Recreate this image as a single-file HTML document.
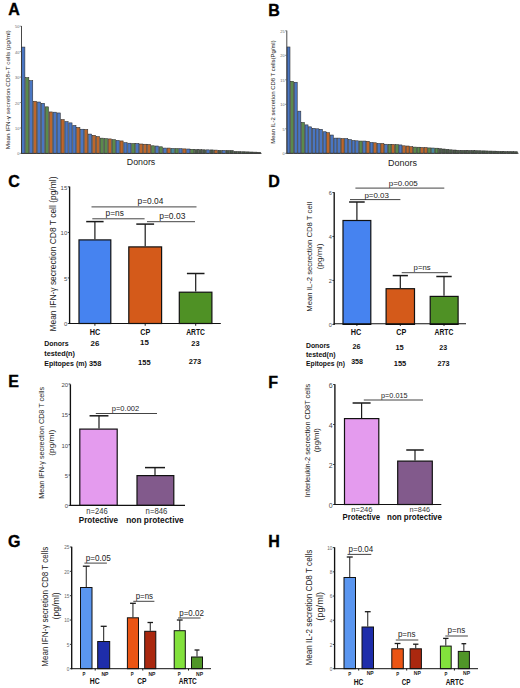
<!DOCTYPE html>
<html><head><meta charset="utf-8"><title>Figure</title>
<style>
html,body{margin:0;padding:0;background:#fff;}
body{width:520px;height:688px;overflow:hidden;}
svg{display:block;font-family:"Liberation Sans", sans-serif;}
</style></head>
<body>
<svg width="520" height="688" viewBox="0 0 520 688">
<rect width="520" height="688" fill="#fff"/>
<text x="8.30" y="15.20" font-size="16.0" text-anchor="start" font-weight="bold" fill="#000" stroke="#000" stroke-width="0.35">A</text>
<text x="268.30" y="15.50" font-size="16.0" text-anchor="start" font-weight="bold" fill="#000" stroke="#000" stroke-width="0.35">B</text>
<text x="8.30" y="187.20" font-size="16.0" text-anchor="start" font-weight="bold" fill="#000" stroke="#000" stroke-width="0.35">C</text>
<text x="268.30" y="187.20" font-size="16.0" text-anchor="start" font-weight="bold" fill="#000" stroke="#000" stroke-width="0.35">D</text>
<text x="8.30" y="387.40" font-size="16.0" text-anchor="start" font-weight="bold" fill="#000" stroke="#000" stroke-width="0.35">E</text>
<text x="268.30" y="388.00" font-size="16.0" text-anchor="start" font-weight="bold" fill="#000" stroke="#000" stroke-width="0.35">F</text>
<text x="8.00" y="546.50" font-size="16.0" text-anchor="start" font-weight="bold" fill="#000" stroke="#000" stroke-width="0.35">G</text>
<text x="268.30" y="546.50" font-size="16.0" text-anchor="start" font-weight="bold" fill="#000" stroke="#000" stroke-width="0.35">H</text>
<rect x="21.70" y="47.06" width="3.20" height="106.34" fill="#4a76c2" stroke="#2a2a2a" stroke-width="0.55"/>
<rect x="25.63" y="77.59" width="3.20" height="75.81" fill="#5b8a4c" stroke="#2a2a2a" stroke-width="0.55"/>
<rect x="29.56" y="80.64" width="3.20" height="72.76" fill="#4a76c2" stroke="#2a2a2a" stroke-width="0.55"/>
<rect x="33.49" y="101.25" width="3.20" height="52.15" fill="#bd672b" stroke="#2a2a2a" stroke-width="0.55"/>
<rect x="37.42" y="102.01" width="3.20" height="51.39" fill="#4a76c2" stroke="#2a2a2a" stroke-width="0.55"/>
<rect x="41.35" y="103.28" width="3.20" height="50.12" fill="#4a76c2" stroke="#2a2a2a" stroke-width="0.55"/>
<rect x="45.28" y="106.84" width="3.20" height="46.56" fill="#5b8a4c" stroke="#2a2a2a" stroke-width="0.55"/>
<rect x="49.21" y="111.93" width="3.20" height="41.47" fill="#bd672b" stroke="#2a2a2a" stroke-width="0.55"/>
<rect x="53.14" y="112.19" width="3.20" height="41.21" fill="#4a76c2" stroke="#2a2a2a" stroke-width="0.55"/>
<rect x="57.07" y="112.95" width="3.20" height="40.45" fill="#4a76c2" stroke="#2a2a2a" stroke-width="0.55"/>
<rect x="61.00" y="119.56" width="3.20" height="33.84" fill="#bd672b" stroke="#2a2a2a" stroke-width="0.55"/>
<rect x="64.93" y="121.60" width="3.20" height="31.80" fill="#4a76c2" stroke="#2a2a2a" stroke-width="0.55"/>
<rect x="68.86" y="122.87" width="3.20" height="30.53" fill="#4a76c2" stroke="#2a2a2a" stroke-width="0.55"/>
<rect x="72.79" y="125.42" width="3.20" height="27.98" fill="#4a76c2" stroke="#2a2a2a" stroke-width="0.55"/>
<rect x="76.72" y="127.45" width="3.20" height="25.95" fill="#bd672b" stroke="#2a2a2a" stroke-width="0.55"/>
<rect x="80.65" y="129.23" width="3.20" height="24.17" fill="#4a76c2" stroke="#2a2a2a" stroke-width="0.55"/>
<rect x="84.58" y="129.49" width="3.20" height="23.91" fill="#bd672b" stroke="#2a2a2a" stroke-width="0.55"/>
<rect x="88.51" y="134.07" width="3.20" height="19.33" fill="#4a76c2" stroke="#2a2a2a" stroke-width="0.55"/>
<rect x="92.44" y="135.34" width="3.20" height="18.06" fill="#bd672b" stroke="#2a2a2a" stroke-width="0.55"/>
<rect x="96.37" y="136.61" width="3.20" height="16.79" fill="#bd672b" stroke="#2a2a2a" stroke-width="0.55"/>
<rect x="100.30" y="138.14" width="3.20" height="15.26" fill="#5b8a4c" stroke="#2a2a2a" stroke-width="0.55"/>
<rect x="104.23" y="138.64" width="3.20" height="14.76" fill="#5b8a4c" stroke="#2a2a2a" stroke-width="0.55"/>
<rect x="108.16" y="138.90" width="3.20" height="14.50" fill="#bd672b" stroke="#2a2a2a" stroke-width="0.55"/>
<rect x="112.09" y="139.66" width="3.20" height="13.74" fill="#5b8a4c" stroke="#2a2a2a" stroke-width="0.55"/>
<rect x="116.02" y="140.43" width="3.20" height="12.97" fill="#4a76c2" stroke="#2a2a2a" stroke-width="0.55"/>
<rect x="119.95" y="140.93" width="3.20" height="12.47" fill="#bd672b" stroke="#2a2a2a" stroke-width="0.55"/>
<rect x="123.88" y="142.72" width="3.20" height="10.68" fill="#4a76c2" stroke="#2a2a2a" stroke-width="0.55"/>
<rect x="127.81" y="143.22" width="3.20" height="10.18" fill="#4a76c2" stroke="#2a2a2a" stroke-width="0.55"/>
<rect x="131.74" y="143.48" width="3.20" height="9.92" fill="#5b8a4c" stroke="#2a2a2a" stroke-width="0.55"/>
<rect x="135.67" y="143.48" width="3.20" height="9.92" fill="#4a76c2" stroke="#2a2a2a" stroke-width="0.55"/>
<rect x="139.60" y="143.99" width="3.20" height="9.41" fill="#bd672b" stroke="#2a2a2a" stroke-width="0.55"/>
<rect x="143.53" y="144.24" width="3.20" height="9.16" fill="#bd672b" stroke="#2a2a2a" stroke-width="0.55"/>
<rect x="147.46" y="144.50" width="3.20" height="8.90" fill="#bd672b" stroke="#2a2a2a" stroke-width="0.55"/>
<rect x="151.39" y="145.77" width="3.20" height="7.63" fill="#5b8a4c" stroke="#2a2a2a" stroke-width="0.55"/>
<rect x="155.32" y="146.02" width="3.20" height="7.38" fill="#4a76c2" stroke="#2a2a2a" stroke-width="0.55"/>
<rect x="159.25" y="146.79" width="3.20" height="6.61" fill="#5b8a4c" stroke="#2a2a2a" stroke-width="0.55"/>
<rect x="163.18" y="148.06" width="3.20" height="5.34" fill="#4a76c2" stroke="#2a2a2a" stroke-width="0.55"/>
<rect x="167.11" y="148.06" width="3.20" height="5.34" fill="#bd672b" stroke="#2a2a2a" stroke-width="0.55"/>
<rect x="171.04" y="148.44" width="3.20" height="4.96" fill="#4a8aa0" stroke="#2a2a2a" stroke-width="0.55"/>
<rect x="174.97" y="148.57" width="3.20" height="4.83" fill="#5b8a4c" stroke="#2a2a2a" stroke-width="0.55"/>
<rect x="178.90" y="148.69" width="3.20" height="4.71" fill="#4a76c2" stroke="#2a2a2a" stroke-width="0.55"/>
<rect x="182.83" y="148.87" width="3.20" height="4.53" fill="#bd672b" stroke="#2a2a2a" stroke-width="0.55"/>
<rect x="186.76" y="149.00" width="3.20" height="4.40" fill="#4a76c2" stroke="#2a2a2a" stroke-width="0.55"/>
<rect x="190.69" y="149.30" width="3.20" height="4.10" fill="#5b8a4c" stroke="#2a2a2a" stroke-width="0.55"/>
<rect x="194.62" y="149.58" width="3.20" height="3.82" fill="#4a5a48" stroke="#2a2a2a" stroke-width="0.55"/>
<rect x="198.55" y="149.69" width="3.20" height="3.71" fill="#4a5a48" stroke="#2a2a2a" stroke-width="0.55"/>
<rect x="202.48" y="149.79" width="3.20" height="3.61" fill="#4a5a48" stroke="#2a2a2a" stroke-width="0.55"/>
<rect x="206.41" y="149.84" width="3.20" height="3.56" fill="#4a76c2" stroke="#2a2a2a" stroke-width="0.55"/>
<rect x="210.34" y="149.91" width="3.20" height="3.49" fill="#4a5a48" stroke="#2a2a2a" stroke-width="0.55"/>
<rect x="214.27" y="150.09" width="3.20" height="3.31" fill="#bd672b" stroke="#2a2a2a" stroke-width="0.55"/>
<rect x="218.20" y="150.35" width="3.20" height="3.05" fill="#4a5a48" stroke="#2a2a2a" stroke-width="0.55"/>
<rect x="222.13" y="150.40" width="3.20" height="3.00" fill="#4a76c2" stroke="#2a2a2a" stroke-width="0.55"/>
<rect x="226.06" y="150.47" width="3.20" height="2.93" fill="#4a5a48" stroke="#2a2a2a" stroke-width="0.55"/>
<rect x="229.99" y="150.55" width="3.20" height="2.85" fill="#4a5a48" stroke="#2a2a2a" stroke-width="0.55"/>
<rect x="233.92" y="151.49" width="3.20" height="1.91" fill="#4a5a48" stroke="#2a2a2a" stroke-width="0.55"/>
<rect x="237.85" y="151.62" width="3.20" height="1.78" fill="#4a5a48" stroke="#2a2a2a" stroke-width="0.55"/>
<rect x="241.78" y="151.75" width="3.20" height="1.65" fill="#4a5a48" stroke="#2a2a2a" stroke-width="0.55"/>
<rect x="245.71" y="151.87" width="3.20" height="1.53" fill="#4a5a48" stroke="#2a2a2a" stroke-width="0.55"/>
<rect x="249.64" y="152.00" width="3.20" height="1.40" fill="#4a5a48" stroke="#2a2a2a" stroke-width="0.55"/>
<rect x="253.57" y="152.13" width="3.20" height="1.27" fill="#4a5a48" stroke="#2a2a2a" stroke-width="0.55"/>
<rect x="257.50" y="152.26" width="3.20" height="1.14" fill="#4a5a48" stroke="#2a2a2a" stroke-width="0.55"/>
<line x1="21.50" y1="26.00" x2="21.50" y2="153.80" stroke="#333" stroke-width="0.9"/>
<line x1="21.10" y1="153.40" x2="261.50" y2="153.40" stroke="#333" stroke-width="0.9"/>
<line x1="19.70" y1="153.40" x2="21.50" y2="153.40" stroke="#555" stroke-width="0.6"/>
<text x="19.30" y="155.40" font-size="3.9" text-anchor="end" fill="#666">0</text>
<line x1="19.70" y1="127.96" x2="21.50" y2="127.96" stroke="#555" stroke-width="0.6"/>
<text x="19.30" y="129.96" font-size="3.9" text-anchor="end" fill="#666">10</text>
<line x1="19.70" y1="102.52" x2="21.50" y2="102.52" stroke="#555" stroke-width="0.6"/>
<text x="19.30" y="104.52" font-size="3.9" text-anchor="end" fill="#666">20</text>
<line x1="19.70" y1="77.08" x2="21.50" y2="77.08" stroke="#555" stroke-width="0.6"/>
<text x="19.30" y="79.08" font-size="3.9" text-anchor="end" fill="#666">30</text>
<line x1="19.70" y1="51.64" x2="21.50" y2="51.64" stroke="#555" stroke-width="0.6"/>
<text x="19.30" y="53.64" font-size="3.9" text-anchor="end" fill="#666">40</text>
<line x1="19.70" y1="26.20" x2="21.50" y2="26.20" stroke="#555" stroke-width="0.6"/>
<text x="19.30" y="28.20" font-size="3.9" text-anchor="end" fill="#666">50</text>
<text x="141.00" y="165.30" font-size="9.2" text-anchor="middle" fill="#222" textLength="28.50" lengthAdjust="spacingAndGlyphs">Donors</text>
<text transform="translate(9.70,89.80) rotate(-90)" font-size="6.0" text-anchor="middle" fill="#222" textLength="119.00" lengthAdjust="spacingAndGlyphs">Mean IFN-γ secretion CD8+T cells (pg/ml)</text>
<rect x="287.00" y="46.97" width="3.00" height="106.33" fill="#4a76c2" stroke="#2a2a2a" stroke-width="0.55"/>
<rect x="290.61" y="81.27" width="3.00" height="72.03" fill="#5b8a4c" stroke="#2a2a2a" stroke-width="0.55"/>
<rect x="294.22" y="82.25" width="3.00" height="71.05" fill="#4a76c2" stroke="#2a2a2a" stroke-width="0.55"/>
<rect x="297.83" y="111.16" width="3.00" height="42.14" fill="#4a76c2" stroke="#2a2a2a" stroke-width="0.55"/>
<rect x="301.44" y="122.43" width="3.00" height="30.87" fill="#5b8a4c" stroke="#2a2a2a" stroke-width="0.55"/>
<rect x="305.05" y="124.88" width="3.00" height="28.42" fill="#4a76c2" stroke="#2a2a2a" stroke-width="0.55"/>
<rect x="308.66" y="126.84" width="3.00" height="26.46" fill="#4a76c2" stroke="#2a2a2a" stroke-width="0.55"/>
<rect x="312.27" y="128.31" width="3.00" height="24.99" fill="#4a76c2" stroke="#2a2a2a" stroke-width="0.55"/>
<rect x="315.88" y="128.80" width="3.00" height="24.50" fill="#4a76c2" stroke="#2a2a2a" stroke-width="0.55"/>
<rect x="319.49" y="129.29" width="3.00" height="24.01" fill="#4a76c2" stroke="#2a2a2a" stroke-width="0.55"/>
<rect x="323.10" y="131.74" width="3.00" height="21.56" fill="#4a76c2" stroke="#2a2a2a" stroke-width="0.55"/>
<rect x="326.71" y="132.72" width="3.00" height="20.58" fill="#bd672b" stroke="#2a2a2a" stroke-width="0.55"/>
<rect x="330.32" y="135.02" width="3.00" height="18.28" fill="#4a76c2" stroke="#2a2a2a" stroke-width="0.55"/>
<rect x="333.93" y="138.11" width="3.00" height="15.19" fill="#4a76c2" stroke="#2a2a2a" stroke-width="0.55"/>
<rect x="337.54" y="138.11" width="3.00" height="15.19" fill="#4a76c2" stroke="#2a2a2a" stroke-width="0.55"/>
<rect x="341.15" y="138.60" width="3.00" height="14.70" fill="#bd672b" stroke="#2a2a2a" stroke-width="0.55"/>
<rect x="344.76" y="138.60" width="3.00" height="14.70" fill="#4a76c2" stroke="#2a2a2a" stroke-width="0.55"/>
<rect x="348.37" y="139.58" width="3.00" height="13.72" fill="#4a76c2" stroke="#2a2a2a" stroke-width="0.55"/>
<rect x="351.98" y="140.56" width="3.00" height="12.74" fill="#4a76c2" stroke="#2a2a2a" stroke-width="0.55"/>
<rect x="355.59" y="140.81" width="3.00" height="12.49" fill="#4a76c2" stroke="#2a2a2a" stroke-width="0.55"/>
<rect x="359.20" y="141.05" width="3.00" height="12.25" fill="#5b8a4c" stroke="#2a2a2a" stroke-width="0.55"/>
<rect x="362.81" y="141.05" width="3.00" height="12.25" fill="#4a76c2" stroke="#2a2a2a" stroke-width="0.55"/>
<rect x="366.42" y="141.30" width="3.00" height="12.01" fill="#bd672b" stroke="#2a2a2a" stroke-width="0.55"/>
<rect x="370.03" y="142.52" width="3.00" height="10.78" fill="#4a76c2" stroke="#2a2a2a" stroke-width="0.55"/>
<rect x="373.64" y="142.77" width="3.00" height="10.54" fill="#bd672b" stroke="#2a2a2a" stroke-width="0.55"/>
<rect x="377.25" y="143.50" width="3.00" height="9.80" fill="#4a76c2" stroke="#2a2a2a" stroke-width="0.55"/>
<rect x="380.86" y="143.50" width="3.00" height="9.80" fill="#bd672b" stroke="#2a2a2a" stroke-width="0.55"/>
<rect x="384.47" y="144.24" width="3.00" height="9.07" fill="#4a76c2" stroke="#2a2a2a" stroke-width="0.55"/>
<rect x="388.08" y="144.28" width="3.00" height="9.02" fill="#5b8a4c" stroke="#2a2a2a" stroke-width="0.55"/>
<rect x="391.69" y="144.38" width="3.00" height="8.92" fill="#bd672b" stroke="#2a2a2a" stroke-width="0.55"/>
<rect x="395.30" y="144.68" width="3.00" height="8.62" fill="#5b8a4c" stroke="#2a2a2a" stroke-width="0.55"/>
<rect x="398.91" y="144.92" width="3.00" height="8.38" fill="#4a76c2" stroke="#2a2a2a" stroke-width="0.55"/>
<rect x="402.52" y="145.80" width="3.00" height="7.50" fill="#bd672b" stroke="#2a2a2a" stroke-width="0.55"/>
<rect x="406.13" y="146.00" width="3.00" height="7.30" fill="#bd672b" stroke="#2a2a2a" stroke-width="0.55"/>
<rect x="409.74" y="146.69" width="3.00" height="6.62" fill="#bd672b" stroke="#2a2a2a" stroke-width="0.55"/>
<rect x="413.35" y="147.08" width="3.00" height="6.22" fill="#5b8a4c" stroke="#2a2a2a" stroke-width="0.55"/>
<rect x="416.96" y="147.22" width="3.00" height="6.08" fill="#5b8a4c" stroke="#2a2a2a" stroke-width="0.55"/>
<rect x="420.57" y="147.42" width="3.00" height="5.88" fill="#bd672b" stroke="#2a2a2a" stroke-width="0.55"/>
<rect x="424.18" y="147.52" width="3.00" height="5.78" fill="#bd672b" stroke="#2a2a2a" stroke-width="0.55"/>
<rect x="427.79" y="147.91" width="3.00" height="5.39" fill="#5b8a4c" stroke="#2a2a2a" stroke-width="0.55"/>
<rect x="431.40" y="148.01" width="3.00" height="5.29" fill="#4a8aa0" stroke="#2a2a2a" stroke-width="0.55"/>
<rect x="435.01" y="148.20" width="3.00" height="5.10" fill="#5b8a4c" stroke="#2a2a2a" stroke-width="0.55"/>
<rect x="438.62" y="148.69" width="3.00" height="4.61" fill="#4a5a48" stroke="#2a2a2a" stroke-width="0.55"/>
<rect x="442.23" y="148.99" width="3.00" height="4.31" fill="#4a5a48" stroke="#2a2a2a" stroke-width="0.55"/>
<rect x="445.84" y="149.28" width="3.00" height="4.02" fill="#4a5a48" stroke="#2a2a2a" stroke-width="0.55"/>
<rect x="449.45" y="149.82" width="3.00" height="3.48" fill="#4a5a48" stroke="#2a2a2a" stroke-width="0.55"/>
<rect x="453.06" y="150.02" width="3.00" height="3.28" fill="#4a5a48" stroke="#2a2a2a" stroke-width="0.55"/>
<rect x="456.67" y="150.26" width="3.00" height="3.04" fill="#4a5a48" stroke="#2a2a2a" stroke-width="0.55"/>
<rect x="460.28" y="150.36" width="3.00" height="2.94" fill="#4a5a48" stroke="#2a2a2a" stroke-width="0.55"/>
<rect x="463.89" y="150.36" width="3.00" height="2.94" fill="#4a5a48" stroke="#2a2a2a" stroke-width="0.55"/>
<rect x="467.50" y="150.46" width="3.00" height="2.84" fill="#4a5a48" stroke="#2a2a2a" stroke-width="0.55"/>
<rect x="471.11" y="150.56" width="3.00" height="2.74" fill="#4a5a48" stroke="#2a2a2a" stroke-width="0.55"/>
<rect x="474.72" y="150.65" width="3.00" height="2.65" fill="#4a5a48" stroke="#2a2a2a" stroke-width="0.55"/>
<rect x="478.33" y="150.75" width="3.00" height="2.55" fill="#4a5a48" stroke="#2a2a2a" stroke-width="0.55"/>
<rect x="481.94" y="150.85" width="3.00" height="2.45" fill="#4a5a48" stroke="#2a2a2a" stroke-width="0.55"/>
<rect x="485.55" y="150.95" width="3.00" height="2.35" fill="#4a5a48" stroke="#2a2a2a" stroke-width="0.55"/>
<rect x="489.16" y="151.05" width="3.00" height="2.25" fill="#4a5a48" stroke="#2a2a2a" stroke-width="0.55"/>
<rect x="492.77" y="151.14" width="3.00" height="2.16" fill="#4a5a48" stroke="#2a2a2a" stroke-width="0.55"/>
<rect x="496.38" y="151.24" width="3.00" height="2.06" fill="#4a5a48" stroke="#2a2a2a" stroke-width="0.55"/>
<rect x="499.99" y="151.34" width="3.00" height="1.96" fill="#4a5a48" stroke="#2a2a2a" stroke-width="0.55"/>
<rect x="503.60" y="151.44" width="3.00" height="1.86" fill="#4a5a48" stroke="#2a2a2a" stroke-width="0.55"/>
<rect x="507.21" y="151.54" width="3.00" height="1.76" fill="#4a5a48" stroke="#2a2a2a" stroke-width="0.55"/>
<rect x="510.82" y="151.63" width="3.00" height="1.67" fill="#4a5a48" stroke="#2a2a2a" stroke-width="0.55"/>
<rect x="514.43" y="151.73" width="3.00" height="1.57" fill="#4a5a48" stroke="#2a2a2a" stroke-width="0.55"/>
<line x1="286.80" y1="30.60" x2="286.80" y2="153.70" stroke="#333" stroke-width="0.9"/>
<line x1="286.40" y1="153.30" x2="518.50" y2="153.30" stroke="#333" stroke-width="0.9"/>
<line x1="285.00" y1="153.30" x2="286.80" y2="153.30" stroke="#555" stroke-width="0.6"/>
<text x="284.60" y="155.30" font-size="3.9" text-anchor="end" fill="#666">0</text>
<line x1="285.00" y1="128.80" x2="286.80" y2="128.80" stroke="#555" stroke-width="0.6"/>
<text x="284.60" y="130.80" font-size="3.9" text-anchor="end" fill="#666">5</text>
<line x1="285.00" y1="104.30" x2="286.80" y2="104.30" stroke="#555" stroke-width="0.6"/>
<text x="284.60" y="106.30" font-size="3.9" text-anchor="end" fill="#666">10</text>
<line x1="285.00" y1="79.80" x2="286.80" y2="79.80" stroke="#555" stroke-width="0.6"/>
<text x="284.60" y="81.80" font-size="3.9" text-anchor="end" fill="#666">15</text>
<line x1="285.00" y1="55.30" x2="286.80" y2="55.30" stroke="#555" stroke-width="0.6"/>
<text x="284.60" y="57.30" font-size="3.9" text-anchor="end" fill="#666">20</text>
<line x1="285.00" y1="30.80" x2="286.80" y2="30.80" stroke="#555" stroke-width="0.6"/>
<text x="284.60" y="32.80" font-size="3.9" text-anchor="end" fill="#666">25</text>
<text x="402.50" y="165.60" font-size="9.2" text-anchor="middle" fill="#222" textLength="29.00" lengthAdjust="spacingAndGlyphs">Donors</text>
<text transform="translate(275.30,92.10) rotate(-90)" font-size="5.0" text-anchor="middle" fill="#222" textLength="103.40" lengthAdjust="spacingAndGlyphs">Mean IL-2 secretion CD8 T cells(Pg/ml)</text>
<line x1="69.60" y1="186.60" x2="69.60" y2="324.00" stroke="#111" stroke-width="1.35"/>
<line x1="67.80" y1="186.85" x2="69.60" y2="186.85" stroke="#222" stroke-width="0.9"/>
<text x="67.30" y="189.71" font-size="6.0" text-anchor="end" fill="#4a4a4a">15</text>
<line x1="67.80" y1="232.40" x2="69.60" y2="232.40" stroke="#222" stroke-width="0.9"/>
<text x="67.30" y="235.26" font-size="6.0" text-anchor="end" fill="#4a4a4a">10</text>
<line x1="67.80" y1="277.95" x2="69.60" y2="277.95" stroke="#222" stroke-width="0.9"/>
<text x="67.30" y="280.81" font-size="6.0" text-anchor="end" fill="#4a4a4a">5</text>
<line x1="67.80" y1="323.50" x2="69.60" y2="323.50" stroke="#222" stroke-width="0.9"/>
<text x="67.30" y="326.36" font-size="6.0" text-anchor="end" fill="#4a4a4a">0</text>
<rect x="79.00" y="239.90" width="31.80" height="83.60" fill="#4683f0" stroke="#111" stroke-width="1.2"/>
<rect x="128.80" y="246.90" width="32.80" height="76.60" fill="#d45a1a" stroke="#111" stroke-width="1.2"/>
<rect x="179.30" y="292.20" width="32.60" height="31.30" fill="#4f9125" stroke="#111" stroke-width="1.2"/>
<line x1="94.90" y1="239.30" x2="94.90" y2="221.60" stroke="#1a1a1a" stroke-width="1.2"/>
<line x1="86.20" y1="221.60" x2="103.60" y2="221.60" stroke="#1a1a1a" stroke-width="1.5"/>
<line x1="145.20" y1="246.30" x2="145.20" y2="224.10" stroke="#1a1a1a" stroke-width="1.2"/>
<line x1="136.30" y1="224.10" x2="154.10" y2="224.10" stroke="#1a1a1a" stroke-width="1.5"/>
<line x1="195.70" y1="291.60" x2="195.70" y2="273.50" stroke="#1a1a1a" stroke-width="1.2"/>
<line x1="186.90" y1="273.50" x2="204.50" y2="273.50" stroke="#1a1a1a" stroke-width="1.5"/>
<line x1="69.10" y1="323.50" x2="220.80" y2="323.50" stroke="#111" stroke-width="1.1"/>
<line x1="94.90" y1="323.50" x2="94.90" y2="325.80" stroke="#111" stroke-width="0.9"/>
<line x1="145.20" y1="323.50" x2="145.20" y2="325.80" stroke="#111" stroke-width="0.9"/>
<line x1="195.70" y1="323.50" x2="195.70" y2="325.80" stroke="#111" stroke-width="0.9"/>
<line x1="91.50" y1="206.90" x2="196.50" y2="206.90" stroke="#444" stroke-width="1.0"/>
<line x1="92.30" y1="218.80" x2="144.60" y2="218.80" stroke="#444" stroke-width="1.0"/>
<line x1="147.00" y1="221.70" x2="195.00" y2="221.70" stroke="#444" stroke-width="1.0"/>
<text x="137.50" y="203.80" font-size="8.4" text-anchor="start" fill="#222" textLength="25.80" lengthAdjust="spacingAndGlyphs">p=0.04</text>
<text x="105.60" y="216.20" font-size="8.4" text-anchor="start" fill="#222" textLength="18.20" lengthAdjust="spacingAndGlyphs">p=ns</text>
<text x="159.20" y="218.60" font-size="8.4" text-anchor="start" fill="#222" textLength="26.20" lengthAdjust="spacingAndGlyphs">p=0.03</text>
<text x="94.90" y="335.10" font-size="8.2" text-anchor="middle" font-weight="bold" fill="#111" textLength="10.50" lengthAdjust="spacingAndGlyphs">HC</text>
<text x="145.20" y="335.10" font-size="8.2" text-anchor="middle" font-weight="bold" fill="#111" textLength="10.00" lengthAdjust="spacingAndGlyphs">CP</text>
<text x="195.60" y="335.10" font-size="8.2" text-anchor="middle" font-weight="bold" fill="#111" textLength="18.80" lengthAdjust="spacingAndGlyphs">ARTC</text>
<text x="44.30" y="346.30" font-size="7.4" text-anchor="start" font-weight="bold" fill="#111" textLength="24.40" lengthAdjust="spacingAndGlyphs">Donors</text>
<text x="94.90" y="346.20" font-size="7.6" text-anchor="middle" font-weight="bold" fill="#111" textLength="8.80" lengthAdjust="spacingAndGlyphs">26</text>
<text x="144.40" y="345.20" font-size="7.6" text-anchor="middle" font-weight="bold" fill="#111" textLength="8.80" lengthAdjust="spacingAndGlyphs">15</text>
<text x="195.40" y="345.80" font-size="7.6" text-anchor="middle" font-weight="bold" fill="#111" textLength="8.30" lengthAdjust="spacingAndGlyphs">23</text>
<text x="44.30" y="355.60" font-size="7.4" text-anchor="start" font-weight="bold" fill="#111" textLength="30.70" lengthAdjust="spacingAndGlyphs">tested(n)</text>
<text x="44.30" y="365.80" font-size="7.4" text-anchor="start" font-weight="bold" fill="#111" textLength="42.50" lengthAdjust="spacingAndGlyphs">Epitopes (m)</text>
<text x="89.00" y="365.80" font-size="7.4" text-anchor="start" font-weight="bold" fill="#111" textLength="12.30" lengthAdjust="spacingAndGlyphs">358</text>
<text x="144.30" y="365.10" font-size="7.6" text-anchor="middle" font-weight="bold" fill="#111" textLength="12.50" lengthAdjust="spacingAndGlyphs">155</text>
<text x="195.00" y="363.90" font-size="7.6" text-anchor="middle" font-weight="bold" fill="#111" textLength="12.50" lengthAdjust="spacingAndGlyphs">273</text>
<text transform="translate(56.00,254.05) rotate(-90)" font-size="8.4" text-anchor="middle" fill="#222" textLength="155.00" lengthAdjust="spacingAndGlyphs">Mean IFN-γ secrection CD8 T cell (pg/ml)</text>
<line x1="334.20" y1="192.20" x2="334.20" y2="324.90" stroke="#111" stroke-width="1.35"/>
<line x1="332.40" y1="192.52" x2="334.20" y2="192.52" stroke="#222" stroke-width="0.9"/>
<text x="331.90" y="195.24" font-size="5.6" text-anchor="end" fill="#4a4a4a">6</text>
<line x1="332.40" y1="236.48" x2="334.20" y2="236.48" stroke="#222" stroke-width="0.9"/>
<text x="331.90" y="239.20" font-size="5.6" text-anchor="end" fill="#4a4a4a">4</text>
<line x1="332.40" y1="280.44" x2="334.20" y2="280.44" stroke="#222" stroke-width="0.9"/>
<text x="331.90" y="283.16" font-size="5.6" text-anchor="end" fill="#4a4a4a">2</text>
<line x1="332.40" y1="324.40" x2="334.20" y2="324.40" stroke="#222" stroke-width="0.9"/>
<text x="331.90" y="327.12" font-size="5.6" text-anchor="end" fill="#4a4a4a">0</text>
<rect x="343.00" y="220.50" width="27.80" height="103.90" fill="#4683f0" stroke="#111" stroke-width="1.2"/>
<rect x="386.10" y="288.70" width="28.40" height="35.70" fill="#d45a1a" stroke="#111" stroke-width="1.2"/>
<rect x="430.20" y="296.40" width="27.90" height="28.00" fill="#4f9125" stroke="#111" stroke-width="1.2"/>
<line x1="356.90" y1="219.90" x2="356.90" y2="202.00" stroke="#1a1a1a" stroke-width="1.2"/>
<line x1="349.10" y1="202.00" x2="364.70" y2="202.00" stroke="#1a1a1a" stroke-width="1.5"/>
<line x1="400.30" y1="288.10" x2="400.30" y2="275.60" stroke="#1a1a1a" stroke-width="1.2"/>
<line x1="392.70" y1="275.60" x2="407.90" y2="275.60" stroke="#1a1a1a" stroke-width="1.5"/>
<line x1="444.00" y1="295.80" x2="444.00" y2="276.50" stroke="#1a1a1a" stroke-width="1.2"/>
<line x1="436.30" y1="276.50" x2="451.70" y2="276.50" stroke="#1a1a1a" stroke-width="1.5"/>
<line x1="333.70" y1="323.80" x2="466.00" y2="323.80" stroke="#111" stroke-width="1.1"/>
<line x1="356.90" y1="323.80" x2="356.90" y2="326.00" stroke="#111" stroke-width="0.9"/>
<line x1="400.30" y1="323.80" x2="400.30" y2="326.00" stroke="#111" stroke-width="0.9"/>
<line x1="444.00" y1="323.80" x2="444.00" y2="326.00" stroke="#111" stroke-width="0.9"/>
<line x1="355.40" y1="188.10" x2="444.30" y2="188.10" stroke="#444" stroke-width="1.0"/>
<line x1="350.00" y1="199.60" x2="400.40" y2="199.60" stroke="#444" stroke-width="1.0"/>
<line x1="401.70" y1="272.70" x2="447.90" y2="272.70" stroke="#444" stroke-width="1.0"/>
<text x="388.70" y="185.80" font-size="7.9" text-anchor="start" fill="#222" textLength="29.10" lengthAdjust="spacingAndGlyphs">p=0.005</text>
<text x="364.40" y="198.40" font-size="7.9" text-anchor="start" fill="#222" textLength="24.50" lengthAdjust="spacingAndGlyphs">p=0.03</text>
<text x="413.60" y="269.80" font-size="7.9" text-anchor="start" fill="#222" textLength="17.00" lengthAdjust="spacingAndGlyphs">p=ns</text>
<text x="356.00" y="335.10" font-size="8.2" text-anchor="middle" font-weight="bold" fill="#111" textLength="10.50" lengthAdjust="spacingAndGlyphs">HC</text>
<text x="401.20" y="335.10" font-size="8.2" text-anchor="middle" font-weight="bold" fill="#111" textLength="10.00" lengthAdjust="spacingAndGlyphs">CP</text>
<text x="444.00" y="335.10" font-size="8.2" text-anchor="middle" font-weight="bold" fill="#111" textLength="18.90" lengthAdjust="spacingAndGlyphs">ARTC</text>
<text x="306.00" y="348.10" font-size="7.4" text-anchor="start" font-weight="bold" fill="#111" textLength="23.90" lengthAdjust="spacingAndGlyphs">Donors</text>
<text x="356.50" y="348.80" font-size="7.6" text-anchor="middle" font-weight="bold" fill="#111" textLength="8.00" lengthAdjust="spacingAndGlyphs">26</text>
<text x="399.60" y="350.00" font-size="7.6" text-anchor="middle" font-weight="bold" fill="#111" textLength="8.30" lengthAdjust="spacingAndGlyphs">15</text>
<text x="443.20" y="350.00" font-size="7.6" text-anchor="middle" font-weight="bold" fill="#111" textLength="7.80" lengthAdjust="spacingAndGlyphs">23</text>
<text x="306.00" y="356.80" font-size="7.4" text-anchor="start" font-weight="bold" fill="#111" textLength="29.50" lengthAdjust="spacingAndGlyphs">tested(n)</text>
<text x="306.00" y="366.30" font-size="7.4" text-anchor="start" font-weight="bold" fill="#111" textLength="39.00" lengthAdjust="spacingAndGlyphs">Epitopes (n)</text>
<text x="357.10" y="363.90" font-size="7.6" text-anchor="middle" font-weight="bold" fill="#111" textLength="11.80" lengthAdjust="spacingAndGlyphs">358</text>
<text x="400.00" y="366.30" font-size="7.6" text-anchor="middle" font-weight="bold" fill="#111" textLength="12.50" lengthAdjust="spacingAndGlyphs">155</text>
<text x="443.50" y="365.50" font-size="7.6" text-anchor="middle" font-weight="bold" fill="#111" textLength="12.10" lengthAdjust="spacingAndGlyphs">273</text>
<text transform="translate(312.20,256.80) rotate(-90)" font-size="8.0" text-anchor="middle" fill="#222" textLength="109.80" lengthAdjust="spacingAndGlyphs">Mean IL-2 secrection CD8 T cell</text>
<text transform="translate(322.30,256.50) rotate(-90)" font-size="8.0" text-anchor="middle" fill="#222" textLength="26.00" lengthAdjust="spacingAndGlyphs">(pg/ml)</text>
<line x1="70.40" y1="384.30" x2="70.40" y2="505.90" stroke="#111" stroke-width="1.35"/>
<line x1="68.60" y1="384.00" x2="70.40" y2="384.00" stroke="#222" stroke-width="0.9"/>
<text x="68.10" y="386.86" font-size="6.0" text-anchor="end" fill="#4a4a4a">20</text>
<line x1="68.60" y1="414.35" x2="70.40" y2="414.35" stroke="#222" stroke-width="0.9"/>
<text x="68.10" y="417.21" font-size="6.0" text-anchor="end" fill="#4a4a4a">15</text>
<line x1="68.60" y1="444.70" x2="70.40" y2="444.70" stroke="#222" stroke-width="0.9"/>
<text x="68.10" y="447.56" font-size="6.0" text-anchor="end" fill="#4a4a4a">10</text>
<line x1="68.60" y1="475.05" x2="70.40" y2="475.05" stroke="#222" stroke-width="0.9"/>
<text x="68.10" y="477.91" font-size="6.0" text-anchor="end" fill="#4a4a4a">5</text>
<line x1="68.60" y1="505.40" x2="70.40" y2="505.40" stroke="#222" stroke-width="0.9"/>
<text x="68.10" y="508.26" font-size="6.0" text-anchor="end" fill="#4a4a4a">0</text>
<rect x="79.80" y="429.10" width="37.40" height="76.30" fill="#e49bee" stroke="#111" stroke-width="1.2"/>
<rect x="137.00" y="475.60" width="36.80" height="29.80" fill="#825a8c" stroke="#111" stroke-width="1.2"/>
<line x1="99.00" y1="428.50" x2="99.00" y2="415.80" stroke="#1a1a1a" stroke-width="1.2"/>
<line x1="89.55" y1="415.80" x2="108.45" y2="415.80" stroke="#1a1a1a" stroke-width="1.5"/>
<line x1="155.00" y1="475.00" x2="155.00" y2="467.60" stroke="#1a1a1a" stroke-width="1.2"/>
<line x1="145.00" y1="467.60" x2="165.00" y2="467.60" stroke="#1a1a1a" stroke-width="1.5"/>
<line x1="69.90" y1="505.40" x2="185.00" y2="505.40" stroke="#111" stroke-width="1.1"/>
<line x1="95.80" y1="413.50" x2="157.00" y2="413.50" stroke="#444" stroke-width="1.0"/>
<text x="111.80" y="411.20" font-size="7.6" text-anchor="start" fill="#222" textLength="27.40" lengthAdjust="spacingAndGlyphs">p=0.002</text>
<text x="97.00" y="514.30" font-size="8.2" text-anchor="middle" fill="#333" textLength="21.30" lengthAdjust="spacingAndGlyphs">n=246</text>
<text x="156.50" y="514.30" font-size="8.2" text-anchor="middle" fill="#333" textLength="21.80" lengthAdjust="spacingAndGlyphs">n=846</text>
<text x="98.40" y="522.60" font-size="8.6" text-anchor="middle" font-weight="bold" fill="#111" textLength="39.30" lengthAdjust="spacingAndGlyphs">Protective</text>
<text x="155.00" y="522.60" font-size="8.6" text-anchor="middle" font-weight="bold" fill="#111" textLength="57.50" lengthAdjust="spacingAndGlyphs">non protective</text>
<text transform="translate(43.90,442.90) rotate(-90)" font-size="8.0" text-anchor="middle" fill="#222" textLength="111.80" lengthAdjust="spacingAndGlyphs">Mean IFN-γ secrection CD8 T cells</text>
<text transform="translate(53.80,442.80) rotate(-90)" font-size="8.0" text-anchor="middle" fill="#222" textLength="26.00" lengthAdjust="spacingAndGlyphs">(pg/ml)</text>
<line x1="334.90" y1="384.20" x2="334.90" y2="505.00" stroke="#111" stroke-width="1.35"/>
<line x1="333.10" y1="384.50" x2="334.90" y2="384.50" stroke="#222" stroke-width="0.9"/>
<text x="332.60" y="387.72" font-size="7.0" text-anchor="end" fill="#4a4a4a">6</text>
<line x1="333.10" y1="424.50" x2="334.90" y2="424.50" stroke="#222" stroke-width="0.9"/>
<text x="332.60" y="427.72" font-size="7.0" text-anchor="end" fill="#4a4a4a">4</text>
<line x1="333.10" y1="464.50" x2="334.90" y2="464.50" stroke="#222" stroke-width="0.9"/>
<text x="332.60" y="467.72" font-size="7.0" text-anchor="end" fill="#4a4a4a">2</text>
<line x1="333.10" y1="504.50" x2="334.90" y2="504.50" stroke="#222" stroke-width="0.9"/>
<text x="332.60" y="507.72" font-size="7.0" text-anchor="end" fill="#4a4a4a">0</text>
<rect x="344.50" y="418.60" width="34.30" height="85.90" fill="#e49bee" stroke="#111" stroke-width="1.2"/>
<rect x="397.70" y="461.10" width="34.60" height="43.40" fill="#825a8c" stroke="#111" stroke-width="1.2"/>
<line x1="361.60" y1="418.00" x2="361.60" y2="403.00" stroke="#1a1a1a" stroke-width="1.2"/>
<line x1="352.60" y1="403.00" x2="370.60" y2="403.00" stroke="#1a1a1a" stroke-width="1.5"/>
<line x1="415.00" y1="460.50" x2="415.00" y2="450.00" stroke="#1a1a1a" stroke-width="1.2"/>
<line x1="406.25" y1="450.00" x2="423.75" y2="450.00" stroke="#1a1a1a" stroke-width="1.5"/>
<line x1="334.40" y1="504.50" x2="441.30" y2="504.50" stroke="#111" stroke-width="1.1"/>
<line x1="363.80" y1="400.00" x2="423.00" y2="400.00" stroke="#444" stroke-width="1.0"/>
<text x="381.10" y="398.00" font-size="7.2" text-anchor="start" fill="#222" textLength="26.40" lengthAdjust="spacingAndGlyphs">p=0.015</text>
<text x="361.90" y="512.10" font-size="8.0" text-anchor="middle" fill="#333" textLength="21.30" lengthAdjust="spacingAndGlyphs">n=246</text>
<text x="419.80" y="512.10" font-size="8.0" text-anchor="middle" fill="#333" textLength="20.50" lengthAdjust="spacingAndGlyphs">n=846</text>
<text x="361.30" y="520.20" font-size="8.4" text-anchor="middle" font-weight="bold" fill="#111" textLength="37.50" lengthAdjust="spacingAndGlyphs">Protective</text>
<text x="414.50" y="520.20" font-size="8.4" text-anchor="middle" font-weight="bold" fill="#111" textLength="55.00" lengthAdjust="spacingAndGlyphs">non protective</text>
<text transform="translate(309.60,440.50) rotate(-90)" font-size="7.2" text-anchor="middle" fill="#222" textLength="113.40" lengthAdjust="spacingAndGlyphs">Interleukin-2  secrection CD8T cells</text>
<text transform="translate(318.80,440.20) rotate(-90)" font-size="7.2" text-anchor="middle" fill="#222" textLength="24.00" lengthAdjust="spacingAndGlyphs">(pg/ml)</text>
<line x1="71.70" y1="546.70" x2="71.70" y2="669.20" stroke="#111" stroke-width="1.35"/>
<line x1="69.90" y1="547.00" x2="71.70" y2="547.00" stroke="#222" stroke-width="0.9"/>
<text x="69.40" y="549.36" font-size="4.6" text-anchor="end" fill="#666">25</text>
<line x1="69.90" y1="571.34" x2="71.70" y2="571.34" stroke="#222" stroke-width="0.9"/>
<text x="69.40" y="573.70" font-size="4.6" text-anchor="end" fill="#666">20</text>
<line x1="69.90" y1="595.68" x2="71.70" y2="595.68" stroke="#222" stroke-width="0.9"/>
<text x="69.40" y="598.04" font-size="4.6" text-anchor="end" fill="#666">15</text>
<line x1="69.90" y1="620.02" x2="71.70" y2="620.02" stroke="#222" stroke-width="0.9"/>
<text x="69.40" y="622.38" font-size="4.6" text-anchor="end" fill="#666">10</text>
<line x1="69.90" y1="644.36" x2="71.70" y2="644.36" stroke="#222" stroke-width="0.9"/>
<text x="69.40" y="646.72" font-size="4.6" text-anchor="end" fill="#666">5</text>
<line x1="69.90" y1="668.70" x2="71.70" y2="668.70" stroke="#222" stroke-width="0.9"/>
<text x="69.40" y="671.06" font-size="4.6" text-anchor="end" fill="#666">0</text>
<rect x="80.50" y="587.50" width="11.50" height="81.20" fill="#5a96f0" stroke="#111" stroke-width="1.0"/>
<line x1="86.25" y1="587.00" x2="86.25" y2="566.20" stroke="#1a1a1a" stroke-width="1.0"/>
<line x1="82.85" y1="566.20" x2="89.65" y2="566.20" stroke="#1a1a1a" stroke-width="1.3"/>
<rect x="97.70" y="641.50" width="12.00" height="27.20" fill="#1e2daa" stroke="#111" stroke-width="1.0"/>
<line x1="103.70" y1="641.00" x2="103.70" y2="626.30" stroke="#1a1a1a" stroke-width="1.0"/>
<line x1="100.70" y1="626.30" x2="106.70" y2="626.30" stroke="#1a1a1a" stroke-width="1.3"/>
<rect x="127.40" y="617.80" width="11.10" height="50.90" fill="#eb5514" stroke="#111" stroke-width="1.0"/>
<line x1="132.95" y1="617.30" x2="132.95" y2="603.30" stroke="#1a1a1a" stroke-width="1.0"/>
<line x1="130.05" y1="603.30" x2="135.85" y2="603.30" stroke="#1a1a1a" stroke-width="1.3"/>
<rect x="144.70" y="631.30" width="11.10" height="37.40" fill="#aa280f" stroke="#111" stroke-width="1.0"/>
<line x1="150.25" y1="630.80" x2="150.25" y2="622.50" stroke="#1a1a1a" stroke-width="1.0"/>
<line x1="147.50" y1="622.50" x2="153.00" y2="622.50" stroke="#1a1a1a" stroke-width="1.3"/>
<rect x="174.20" y="630.70" width="11.10" height="38.00" fill="#82e13c" stroke="#111" stroke-width="1.0"/>
<line x1="179.75" y1="630.20" x2="179.75" y2="620.00" stroke="#1a1a1a" stroke-width="1.0"/>
<line x1="176.85" y1="620.00" x2="182.65" y2="620.00" stroke="#1a1a1a" stroke-width="1.3"/>
<rect x="191.50" y="657.00" width="11.00" height="11.70" fill="#509628" stroke="#111" stroke-width="1.0"/>
<line x1="197.00" y1="656.50" x2="197.00" y2="650.00" stroke="#1a1a1a" stroke-width="1.0"/>
<line x1="194.55" y1="650.00" x2="199.45" y2="650.00" stroke="#1a1a1a" stroke-width="1.3"/>
<line x1="71.20" y1="668.70" x2="211.00" y2="668.70" stroke="#111" stroke-width="1.0"/>
<line x1="95.20" y1="668.70" x2="95.20" y2="670.50" stroke="#111" stroke-width="1.0"/>
<line x1="142.80" y1="668.70" x2="142.80" y2="670.50" stroke="#111" stroke-width="1.0"/>
<line x1="188.50" y1="668.70" x2="188.50" y2="670.50" stroke="#111" stroke-width="1.0"/>
<text x="85.80" y="561.30" font-size="8.6" text-anchor="start" fill="#222" textLength="25.10" lengthAdjust="spacingAndGlyphs">p=0.05</text>
<line x1="84.40" y1="563.10" x2="106.90" y2="563.10" stroke="#444" stroke-width="1.0"/>
<text x="135.70" y="599.40" font-size="8.6" text-anchor="start" fill="#222" textLength="17.30" lengthAdjust="spacingAndGlyphs">p=ns</text>
<line x1="133.30" y1="601.30" x2="154.40" y2="601.30" stroke="#444" stroke-width="1.0"/>
<text x="179.30" y="615.80" font-size="8.6" text-anchor="start" fill="#222" textLength="24.50" lengthAdjust="spacingAndGlyphs">p=0.02</text>
<line x1="178.00" y1="618.00" x2="200.60" y2="618.00" stroke="#444" stroke-width="1.0"/>
<text x="84.00" y="675.80" font-size="5.0" text-anchor="middle" font-weight="bold" fill="#222" textLength="2.90" lengthAdjust="spacingAndGlyphs">P</text>
<text x="104.90" y="675.60" font-size="5.0" text-anchor="middle" font-weight="bold" fill="#222" textLength="7.00" lengthAdjust="spacingAndGlyphs">NP</text>
<text x="132.30" y="675.80" font-size="5.0" text-anchor="middle" font-weight="bold" fill="#222" textLength="2.90" lengthAdjust="spacingAndGlyphs">P</text>
<text x="151.90" y="675.60" font-size="5.0" text-anchor="middle" font-weight="bold" fill="#222" textLength="7.00" lengthAdjust="spacingAndGlyphs">NP</text>
<text x="179.20" y="675.80" font-size="5.0" text-anchor="middle" font-weight="bold" fill="#222" textLength="2.90" lengthAdjust="spacingAndGlyphs">P</text>
<text x="199.60" y="675.60" font-size="5.0" text-anchor="middle" font-weight="bold" fill="#222" textLength="7.00" lengthAdjust="spacingAndGlyphs">NP</text>
<text x="94.70" y="684.40" font-size="8.8" text-anchor="middle" font-weight="bold" fill="#111" textLength="9.90" lengthAdjust="spacingAndGlyphs">HC</text>
<text x="141.90" y="684.40" font-size="8.8" text-anchor="middle" font-weight="bold" fill="#111" textLength="9.30" lengthAdjust="spacingAndGlyphs">CP</text>
<text x="187.80" y="684.40" font-size="8.8" text-anchor="middle" font-weight="bold" fill="#111" textLength="18.00" lengthAdjust="spacingAndGlyphs">ARTC</text>
<text transform="translate(48.20,606.70) rotate(-90)" font-size="8.5" text-anchor="middle" fill="#222" textLength="120.00" lengthAdjust="spacingAndGlyphs">Mean IFN-γ secretion CD8 T cells</text>
<text transform="translate(59.00,605.90) rotate(-90)" font-size="8.5" text-anchor="middle" fill="#222" textLength="27.30" lengthAdjust="spacingAndGlyphs">(pg/ml)</text>
<line x1="334.60" y1="547.30" x2="334.60" y2="669.20" stroke="#111" stroke-width="1.35"/>
<line x1="332.80" y1="547.60" x2="334.60" y2="547.60" stroke="#222" stroke-width="0.9"/>
<text x="332.30" y="549.96" font-size="4.6" text-anchor="end" fill="#666">10</text>
<line x1="332.80" y1="571.82" x2="334.60" y2="571.82" stroke="#222" stroke-width="0.9"/>
<text x="332.30" y="574.18" font-size="4.6" text-anchor="end" fill="#666">8</text>
<line x1="332.80" y1="596.04" x2="334.60" y2="596.04" stroke="#222" stroke-width="0.9"/>
<text x="332.30" y="598.40" font-size="4.6" text-anchor="end" fill="#666">6</text>
<line x1="332.80" y1="620.26" x2="334.60" y2="620.26" stroke="#222" stroke-width="0.9"/>
<text x="332.30" y="622.62" font-size="4.6" text-anchor="end" fill="#666">4</text>
<line x1="332.80" y1="644.48" x2="334.60" y2="644.48" stroke="#222" stroke-width="0.9"/>
<text x="332.30" y="646.84" font-size="4.6" text-anchor="end" fill="#666">2</text>
<line x1="332.80" y1="668.70" x2="334.60" y2="668.70" stroke="#222" stroke-width="0.9"/>
<text x="332.30" y="671.06" font-size="4.6" text-anchor="end" fill="#666">0</text>
<rect x="344.00" y="577.50" width="11.50" height="91.20" fill="#5a96f0" stroke="#111" stroke-width="1.0"/>
<line x1="349.75" y1="577.00" x2="349.75" y2="557.00" stroke="#1a1a1a" stroke-width="1.0"/>
<line x1="346.75" y1="557.00" x2="352.75" y2="557.00" stroke="#1a1a1a" stroke-width="1.3"/>
<rect x="362.00" y="627.00" width="11.50" height="41.70" fill="#1e2daa" stroke="#111" stroke-width="1.0"/>
<line x1="367.75" y1="626.50" x2="367.75" y2="611.70" stroke="#1a1a1a" stroke-width="1.0"/>
<line x1="364.85" y1="611.70" x2="370.65" y2="611.70" stroke="#1a1a1a" stroke-width="1.3"/>
<rect x="391.80" y="648.80" width="11.50" height="19.90" fill="#eb5514" stroke="#111" stroke-width="1.0"/>
<line x1="397.55" y1="648.30" x2="397.55" y2="643.50" stroke="#1a1a1a" stroke-width="1.0"/>
<line x1="394.65" y1="643.50" x2="400.45" y2="643.50" stroke="#1a1a1a" stroke-width="1.3"/>
<rect x="410.10" y="648.80" width="11.30" height="19.90" fill="#aa280f" stroke="#111" stroke-width="1.0"/>
<line x1="415.75" y1="648.30" x2="415.75" y2="644.20" stroke="#1a1a1a" stroke-width="1.0"/>
<line x1="413.10" y1="644.20" x2="418.40" y2="644.20" stroke="#1a1a1a" stroke-width="1.3"/>
<rect x="440.40" y="646.10" width="10.80" height="22.60" fill="#82e13c" stroke="#111" stroke-width="1.0"/>
<line x1="445.80" y1="645.60" x2="445.80" y2="638.40" stroke="#1a1a1a" stroke-width="1.0"/>
<line x1="443.10" y1="638.40" x2="448.50" y2="638.40" stroke="#1a1a1a" stroke-width="1.3"/>
<rect x="458.30" y="651.40" width="11.10" height="17.30" fill="#509628" stroke="#111" stroke-width="1.0"/>
<line x1="463.85" y1="650.90" x2="463.85" y2="643.70" stroke="#1a1a1a" stroke-width="1.0"/>
<line x1="461.50" y1="643.70" x2="466.20" y2="643.70" stroke="#1a1a1a" stroke-width="1.3"/>
<line x1="334.10" y1="668.70" x2="478.00" y2="668.70" stroke="#111" stroke-width="1.0"/>
<line x1="358.70" y1="668.70" x2="358.70" y2="670.50" stroke="#111" stroke-width="1.0"/>
<line x1="406.70" y1="668.70" x2="406.70" y2="670.50" stroke="#111" stroke-width="1.0"/>
<line x1="454.40" y1="668.70" x2="454.40" y2="670.50" stroke="#111" stroke-width="1.0"/>
<text x="348.60" y="551.50" font-size="8.6" text-anchor="start" fill="#222" textLength="24.60" lengthAdjust="spacingAndGlyphs">p=0.04</text>
<line x1="347.50" y1="554.40" x2="371.30" y2="554.40" stroke="#444" stroke-width="1.0"/>
<text x="397.90" y="636.70" font-size="8.6" text-anchor="start" fill="#222" textLength="17.50" lengthAdjust="spacingAndGlyphs">p=ns</text>
<line x1="395.80" y1="640.00" x2="418.30" y2="640.00" stroke="#444" stroke-width="1.0"/>
<text x="447.60" y="633.00" font-size="8.6" text-anchor="start" fill="#222" textLength="17.60" lengthAdjust="spacingAndGlyphs">p=ns</text>
<line x1="445.30" y1="636.00" x2="467.90" y2="636.00" stroke="#444" stroke-width="1.0"/>
<text x="349.80" y="675.60" font-size="5.0" text-anchor="middle" font-weight="bold" fill="#222" textLength="2.90" lengthAdjust="spacingAndGlyphs">P</text>
<text x="370.20" y="675.40" font-size="5.0" text-anchor="middle" font-weight="bold" fill="#222" textLength="7.00" lengthAdjust="spacingAndGlyphs">NP</text>
<text x="397.60" y="675.60" font-size="5.0" text-anchor="middle" font-weight="bold" fill="#222" textLength="2.90" lengthAdjust="spacingAndGlyphs">P</text>
<text x="417.30" y="675.40" font-size="5.0" text-anchor="middle" font-weight="bold" fill="#222" textLength="7.00" lengthAdjust="spacingAndGlyphs">NP</text>
<text x="445.90" y="675.60" font-size="5.0" text-anchor="middle" font-weight="bold" fill="#222" textLength="2.90" lengthAdjust="spacingAndGlyphs">P</text>
<text x="466.50" y="675.40" font-size="5.0" text-anchor="middle" font-weight="bold" fill="#222" textLength="7.00" lengthAdjust="spacingAndGlyphs">NP</text>
<text x="358.60" y="684.90" font-size="8.8" text-anchor="middle" font-weight="bold" fill="#111" textLength="9.70" lengthAdjust="spacingAndGlyphs">HC</text>
<text x="406.20" y="684.90" font-size="8.8" text-anchor="middle" font-weight="bold" fill="#111" textLength="8.70" lengthAdjust="spacingAndGlyphs">CP</text>
<text x="454.70" y="684.90" font-size="8.8" text-anchor="middle" font-weight="bold" fill="#111" textLength="18.10" lengthAdjust="spacingAndGlyphs">ARTC</text>
<text transform="translate(312.30,607.60) rotate(-90)" font-size="9.0" text-anchor="middle" fill="#222" textLength="116.00" lengthAdjust="spacingAndGlyphs">Mean IL-2 secretion CD8 T cells</text>
<text transform="translate(323.00,606.40) rotate(-90)" font-size="9.0" text-anchor="middle" fill="#222" textLength="28.90" lengthAdjust="spacingAndGlyphs">(pg/ml)</text>
</svg>
</body></html>
